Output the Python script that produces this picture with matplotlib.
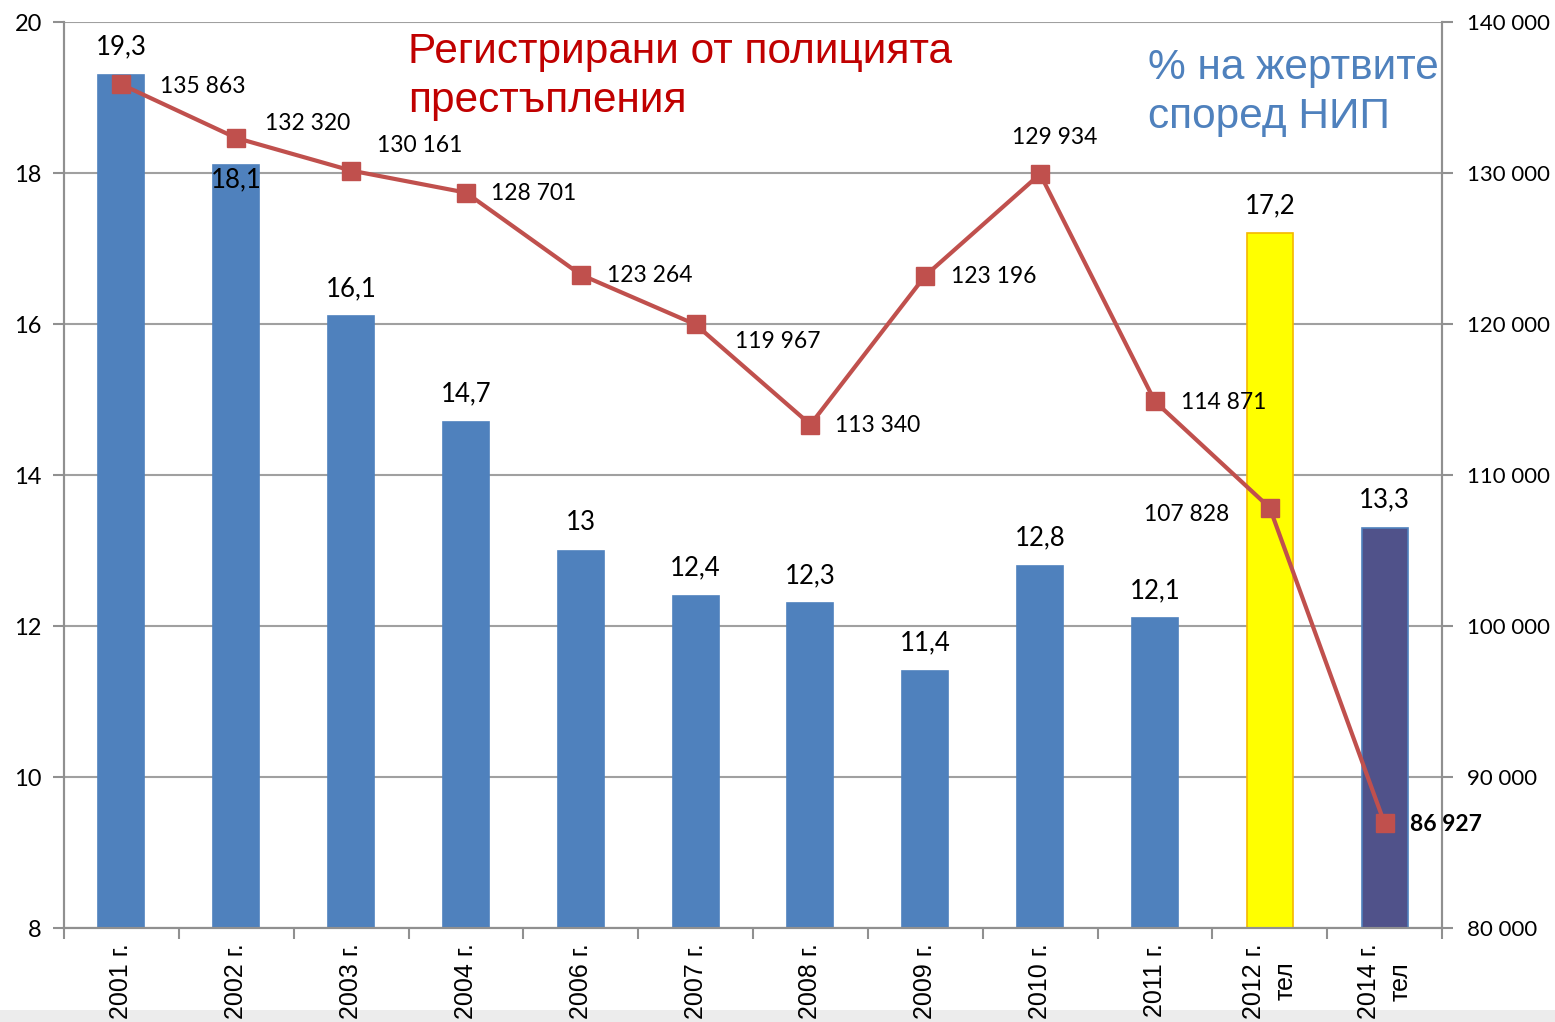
import numpy as np
import matplotlib.pyplot as plt
from matplotlib.patches import Rectangle

# ==============================
# Data
# ==============================

years = ["2001 г.", "2002 г.", "2003 г.", "2004 г.", "2006 г.", "2007 г.",
         "2008 г.", "2009 г.", "2010 г.", "2011 г.", "2012 г.\nтел", "2014 г.\nтел"]
victims_pct = [19.3, 18.1, 16.1, 14.7, 13.0, 12.4, 12.3, 11.4, 12.8, 12.1, 17.2, 13.3]
victims_labels = ["19,3", "18,1", "16,1", "14,7", "13", "12,4", "12,3", "11,4",
                  "12,8", "12,1", "17,2", "13,3"]
crimes = [135863, 132320, 130161, 128701, 123264, 119967, 113340, 123196,
          129934, 114871, 107828, 86927]
crimes_labels = ["135 863", "132 320", "130 161", "128 701", "123 264", "119 967",
                 "113 340", "123 196", "129 934", "114 871", "107 828", "86 927"]

left_ticks = [8, 10, 12, 14, 16, 18, 20]
right_ticks = [80000, 90000, 100000, 110000, 120000, 130000, 140000]
right_tick_labels = ["80 000", "90 000", "100 000", "110 000", "120 000", "130 000", "140 000"]

# label offsets in pixels (dx, dy, ha)
line_offsets = [(39, -2, "left"), (29, 14, "left"), (26, 25, "left"), (25, -1, "left"),
                (26, -1, "left"), (39, -17, "left"), (25, -1, "left"), (26, -1, "left"),
                (15, 36, "center"), (26, -1, "left"), (-40, -7, "right"), (25, -1, "left")]

# ==============================
# Figure
# ==============================

fig = plt.figure(figsize=(15.55, 10.22), dpi=100)
fig.patches.append(Rectangle((0, 0), 1, 12 / 1022, transform=fig.transFigure,
                             facecolor="#ececec", edgecolor="none", zorder=-1))

ax = fig.add_axes([64 / 1555, 94 / 1022, 1378 / 1555, 906 / 1022])
ax2 = ax.twinx()

x = np.arange(len(years))
bar_colors = ["#4f81bd"] * 10 + ["#ffff00", "#50528a"]
bar_edges = ["#4f81bd"] * 10 + ["#f5b800", "#4f81bd"]
ax.bar(x, victims_pct, width=0.4, color=bar_colors, edgecolor=bar_edges,
       linewidth=1.2, zorder=2)

ax.set_ylim(8, 20)
ax.set_xlim(-0.5, len(years) - 0.5)
ax.set_yticks(left_ticks)
ax.set_yticklabels([str(t) for t in left_ticks], fontsize=17, family="Lato")
ax.yaxis.grid(True, color="#a0a0a0", linewidth=1.5, zorder=0)
ax.set_axisbelow(True)

# x ticks between categories, labels centered on categories
ax.set_xticks(np.arange(-0.5, len(years)), minor=False)
ax.set_xticklabels([])
ax.set_xticks(x, minor=True)
ax.set_xticklabels(years, minor=True, rotation=90, fontsize=18,
                   family="Liberation Sans", va="top", ha="center",
                   multialignment="center", linespacing=1.4)
ax.tick_params(axis="x", which="major", length=8, color="#909090", width=1.5)
ax.tick_params(axis="x", which="minor", length=0, pad=11)
ax.tick_params(axis="y", length=8, color="#909090", width=1.5, pad=8)

for s in ["left", "bottom", "right"]:
    ax.spines[s].set_color("#909090")
    ax.spines[s].set_linewidth(1.5)
ax.spines["top"].set_visible(False)
for s in ["left", "bottom", "right"]:
    ax2.spines[s].set_color("#909090")
    ax2.spines[s].set_linewidth(1.5)
ax2.spines["top"].set_visible(False)

# bar labels
for i, (v, lab) in enumerate(zip(victims_pct, victims_labels)):
    dy = -14 if i == 1 else 28
    ax.annotate(lab, (i, v), xytext=(0, dy), textcoords="offset pixels",
                ha="center", va="center", fontsize=18.5, family="Lato", zorder=5)

# line series
ax2.plot(x, crimes, color="#c0504d", linewidth=3, marker="s", markersize=13,
         markerfacecolor="#c0504d", markeredgecolor="#c0504d", zorder=4)
ax2.set_ylim(80000, 140000)
ax2.set_yticks(right_ticks)
ax2.set_yticklabels(right_tick_labels, fontsize=16, family="Lato")
ax2.tick_params(axis="y", length=8, color="#909090", width=1.5, pad=10)

for i, (v, lab) in enumerate(zip(crimes, crimes_labels)):
    dx, dy, ha = line_offsets[i]
    ax2.annotate(lab, (i, v), xytext=(dx, dy), textcoords="offset pixels",
                 ha=ha, va="center", fontsize=16.5, family="Lato",
                 fontweight="bold" if i == len(crimes) - 1 else "normal")

# titles inside the chart
fig.text(408 / 1555, 1 - 32 / 1022, "Регистрирани от полицията\nпрестъпления",
         color="#c00000", fontsize=30.5, family="Liberation Sans", va="top",
         ha="left", linespacing=1.3)
fig.text(1148 / 1555, 1 - 48 / 1022, "% на жертвите\nспоред НИП",
         color="#4f81bd", fontsize=30.5, family="Liberation Sans", va="top",
         ha="left", linespacing=1.3)

fig.savefig("out.png", dpi=100)
